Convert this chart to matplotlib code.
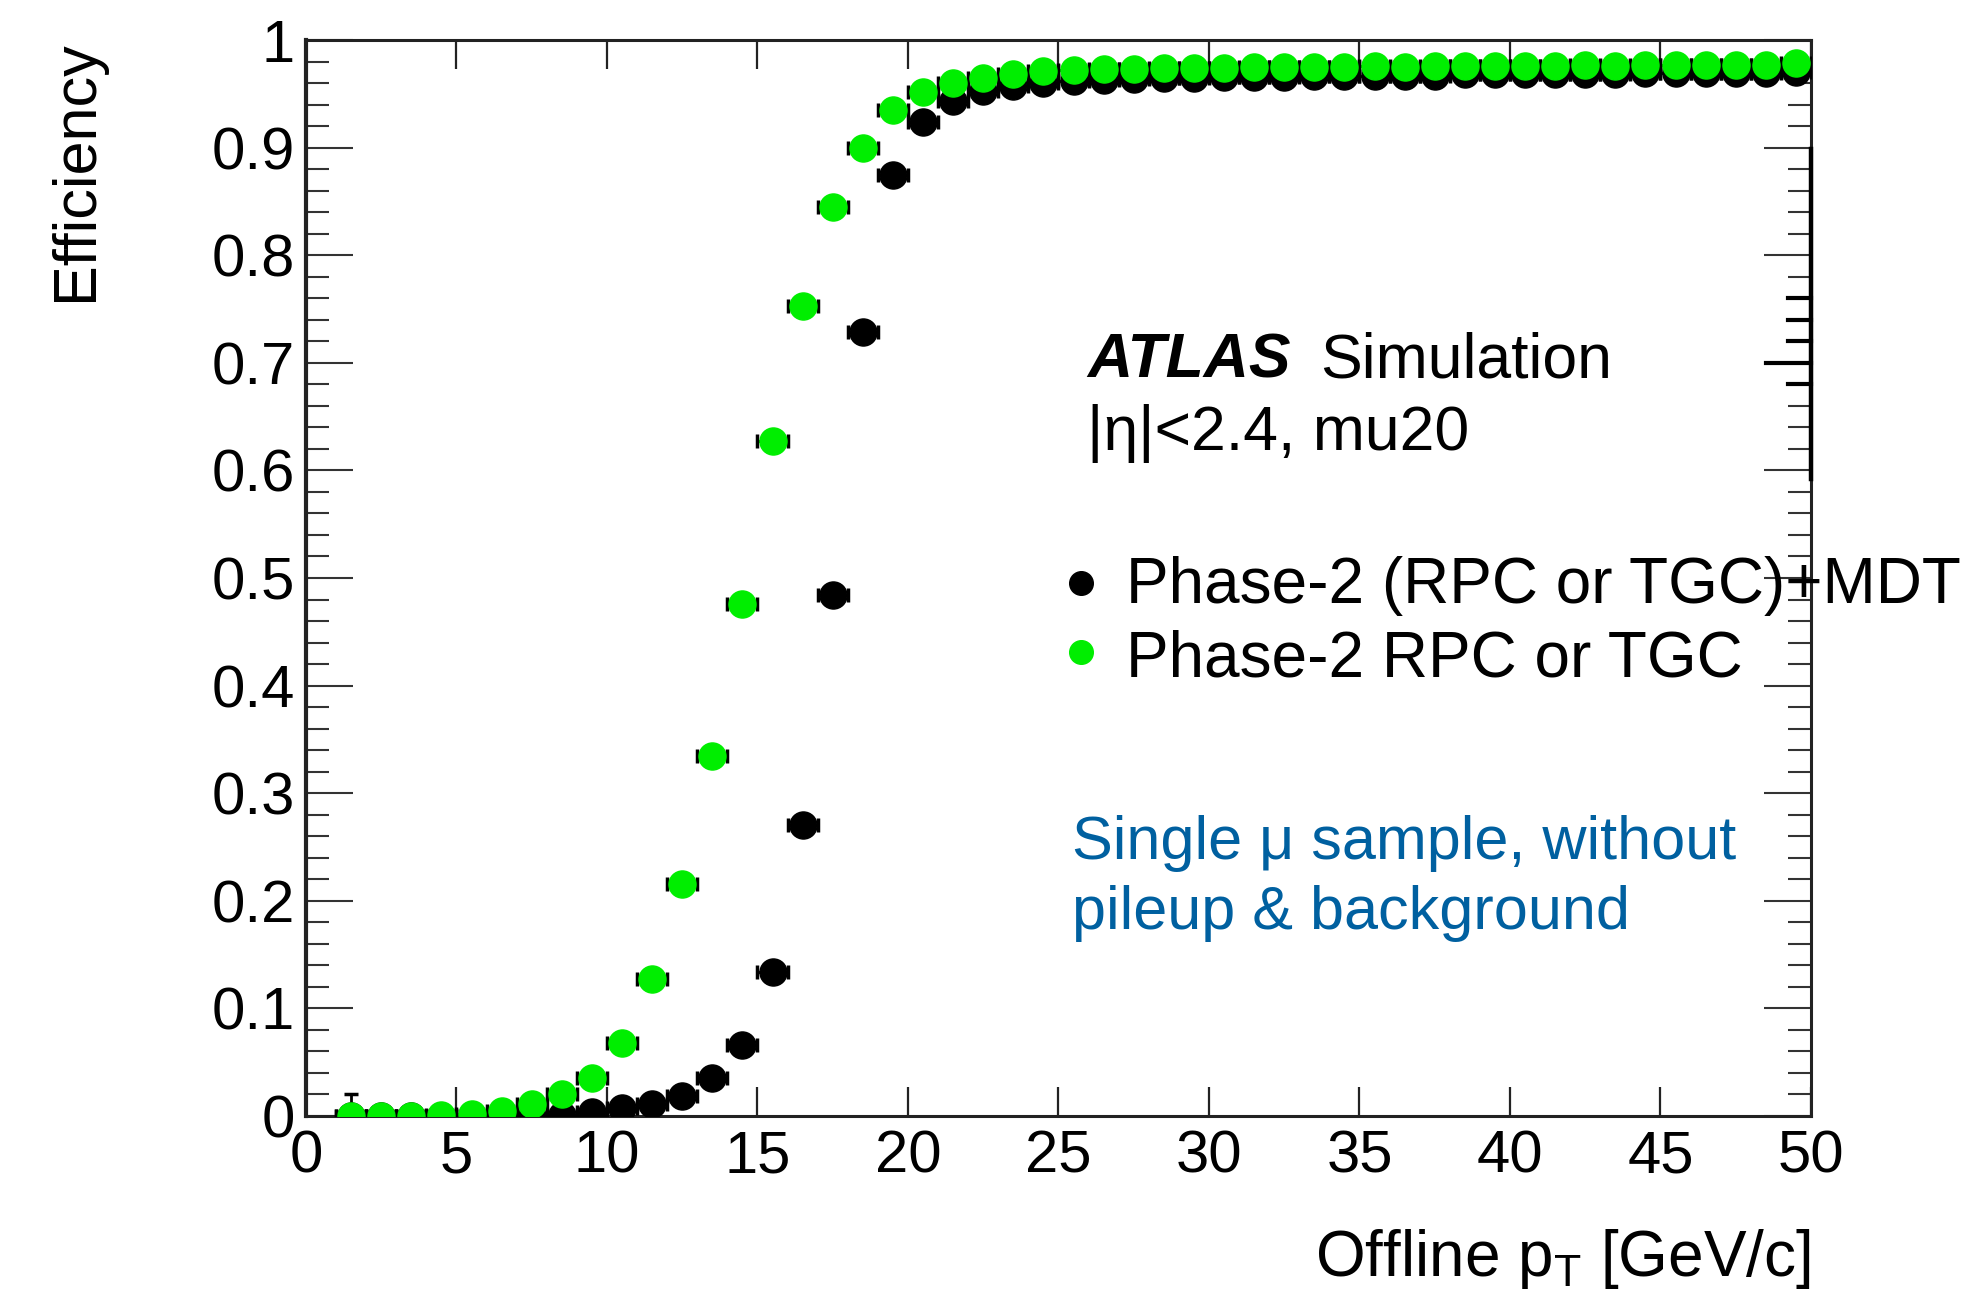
import numpy as np
import matplotlib
matplotlib.use("Agg")
import matplotlib.pyplot as plt
from matplotlib.ticker import MultipleLocator

plt.rcParams["font.family"] = ["Liberation Sans", "DejaVu Sans"]
plt.rcParams["mathtext.fontset"] = "custom"
plt.rcParams["mathtext.rm"] = "Liberation Sans"
plt.rcParams["mathtext.default"] = "regular"

# ---- data (bin centres, 1 GeV bins) ----
pt_bins = np.arange(1.5, 50.0, 1.0)

eff_rpc_tgc = [
    0.000, 0.000, 0.000, 0.001, 0.002, 0.005, 0.011, 0.020, 0.035, 0.068,
    0.127, 0.216, 0.335, 0.476, 0.627, 0.753, 0.845, 0.900, 0.935, 0.952,
    0.960, 0.965, 0.968, 0.971, 0.972, 0.973, 0.973, 0.974, 0.974, 0.974,
    0.975, 0.975, 0.975, 0.975, 0.976, 0.975, 0.976, 0.976, 0.976, 0.976,
    0.976, 0.977, 0.976, 0.977, 0.977, 0.977, 0.977, 0.977, 0.979,
]
eff_rpc_tgc_mdt = [
    0.000, 0.000, 0.000, 0.000, 0.000, 0.000, 0.000, 0.001, 0.004, 0.007,
    0.011, 0.019, 0.035, 0.066, 0.134, 0.270, 0.484, 0.729, 0.875, 0.924,
    0.943, 0.953, 0.957, 0.960, 0.962, 0.963, 0.964, 0.965, 0.965, 0.966,
    0.966, 0.966, 0.967, 0.967, 0.967, 0.967, 0.967, 0.968, 0.968, 0.968,
    0.968, 0.968, 0.968, 0.969, 0.969, 0.969, 0.969, 0.969, 0.970,
]
# upper stat. error only visible on the first bin
err_up_rpc_tgc = [0.02] + [0.0] * 48

series_labels = ["Phase-2 (RPC or TGC)+MDT", "Phase-2 RPC or TGC"]
series_colors = ["black", "#00ee00"]

x_ticks = [0, 5, 10, 15, 20, 25, 30, 35, 40, 45, 50]
y_ticks = [0, 0.1, 0.2, 0.3, 0.4, 0.5, 0.6, 0.7, 0.8, 0.9, 1]
y_ticklabels = ["0", "0.1", "0.2", "0.3", "0.4", "0.5", "0.6", "0.7", "0.8", "0.9", "1"]

fig = plt.figure(figsize=(19.77, 13.03), dpi=100)
ax = fig.add_axes([0.15478, 0.14351, 0.76125, 0.82579])

ms = 19.5
# black series first, green drawn on top
ax.errorbar(pt_bins, eff_rpc_tgc_mdt, xerr=0.5, yerr=0.0, fmt="o",
            color=series_colors[0], mec=series_colors[0], ms=ms,
            ecolor="black", elinewidth=2, capsize=5, capthick=2.5, zorder=3)
ax.errorbar(pt_bins, eff_rpc_tgc, xerr=0.5,
            yerr=[np.zeros(len(pt_bins)), err_up_rpc_tgc], fmt="o",
            color=series_colors[1], mec=series_colors[1], ms=ms,
            ecolor="black", elinewidth=2, capsize=5, capthick=2.5, zorder=4)

ax.set_xlim(0, 50)
ax.set_ylim(0, 1)
ax.set_xticks(x_ticks)
ax.set_xticklabels([str(t) for t in x_ticks])
ax.set_yticks(y_ticks)
ax.set_yticklabels(y_ticklabels)
ax.yaxis.set_minor_locator(MultipleLocator(0.02))

for s in ax.spines.values():
    s.set_linewidth(2.2)
    s.set_color("#222222")
ax.spines["left"].set_linewidth(3)

ax.tick_params(axis="x", which="major", direction="in", top=True, bottom=True,
               length=21, width=1.6, color="#222222", labelsize=43, pad=10)
ax.tick_params(axis="y", which="major", direction="in", left=True, right=True,
               length=34, width=1.5, color="#333333", labelsize=43, pad=8)
ax.tick_params(axis="y", which="minor", direction="in", left=True, right=True,
               length=16.5, width=1.5, color="#333333")

# thicker piece of the right frame seen in the original
ax.plot([1.0, 1.0], [0.592, 0.899], transform=ax.transAxes, color="black",
        lw=3.2, clip_on=False, zorder=6)
for yy in [0.68, 0.72, 0.74, 0.76]:
    ax.plot([0.985, 1.0], [yy, yy], transform=ax.transAxes, color="black",
            lw=3, clip_on=False, zorder=6)
ax.plot([0.97, 1.0], [0.70, 0.70], transform=ax.transAxes, color="black",
        lw=3, clip_on=False, zorder=6)

# axis titles (ROOT style: right/top aligned)
fig.text(1811 / 1977, 0.0207, r"Offline p$_{T}$ [GeV/c]", ha="right",
         va="baseline", fontsize=46)
fig.text(76 / 1977, 1 - 40 / 1303, "Efficiency", rotation=90, ha="center",
         va="top", fontsize=44)

# ATLAS label
ax.text(0.519, 0.686, "ATLAS", transform=ax.transAxes, fontsize=45,
        fontweight="bold", fontstyle="italic", va="baseline")
ax.text(0.674, 0.686, "Simulation", transform=ax.transAxes, fontsize=45,
        va="baseline")
ax.text(0.519, 0.619, "|η|<2.4, mu20", transform=ax.transAxes, fontsize=45,
        va="baseline")

# legend
leg_y = [0.4954, 0.4312]
leg_base = [0.4768, 0.408]
for lab, col, yy, yb in zip(series_labels, series_colors, leg_y, leg_base):
    ax.plot([0.515], [yy], "o", ms=17, color=col, mec=col,
            transform=ax.transAxes, clip_on=False, zorder=7)
    ax.text(0.545, yb, lab, transform=ax.transAxes, fontsize=46,
            va="baseline", zorder=7, clip_on=False)

ax.text(0.509, 0.239, "Single μ sample, without", transform=ax.transAxes,
        fontsize=44, color="#0060a0", va="baseline")
ax.text(0.509, 0.174, "pileup & background", transform=ax.transAxes,
        fontsize=44, color="#0060a0", va="baseline")

fig.savefig("out.png", dpi=100)
